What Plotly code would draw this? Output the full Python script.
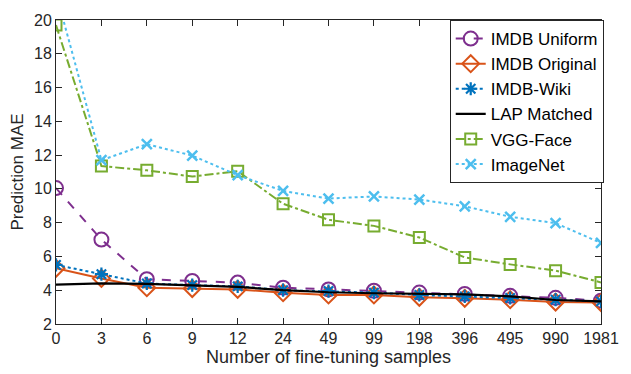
import plotly.graph_objects as go

x_labels = ["0", "3", "6", "9", "12", "24", "49", "99", "198", "396", "495", "990", "1981"]
x_pos = list(range(len(x_labels)))

imdb_uniform = [10.05, 7.0, 4.65, 4.55, 4.45, 4.15, 4.05, 3.97, 3.86, 3.78, 3.67, 3.55, 3.38]
imdb_original = [5.3, 4.7, 4.15, 4.1, 4.05, 3.85, 3.72, 3.72, 3.58, 3.52, 3.44, 3.3, 3.27]
imdb_wiki = [5.5, 4.95, 4.4, 4.3, 4.23, 4.0, 3.95, 3.86, 3.72, 3.63, 3.54, 3.44, 3.34]
lap_matched = [4.33, 4.4, 4.38, 4.29, 4.2, 4.0, 3.88, 3.82, 3.8, 3.76, 3.63, 3.42, 3.34]
vgg_face = [19.7, 11.35, 11.1, 10.73, 11.05, 9.12, 8.17, 7.81, 7.12, 5.94, 5.53, 5.16, 4.46]
imagenet = [21.6, 11.7, 12.65, 11.97, 10.81, 9.88, 9.43, 9.55, 9.37, 8.97, 8.35, 7.97, 6.8]

y_ticks = [2, 4, 6, 8, 10, 12, 14, 16, 18, 20]

series = [
    ("IMDB Uniform", imdb_uniform, "#7E2F8E", "dash", "circle-open", 14, 2),
    ("IMDB Original", imdb_original, "#D95319", "solid", "diamond-open", 13, 2),
    ("IMDB-Wiki", imdb_wiki, "#0072BD", "dot", "asterisk-open", 11, 2.2),
    ("LAP Matched", lap_matched, "#000000", "solid", None, 0, 0),
    ("VGG-Face", vgg_face, "#77AC30", "dashdot", "square-open", 11, 2),
    ("ImageNet", imagenet, "#4DBEEE", "dot", "x-thin-open", 10, 2.5),
]

fig = go.Figure()
for name, vals, color, dash, sym, size, mlw in series:
    if sym is None:
        fig.add_trace(go.Scatter(x=x_pos, y=vals, name=name, mode="lines",
                                 line=dict(color=color, width=2.2, dash=dash)))
    else:
        fig.add_trace(go.Scatter(x=x_pos, y=vals, name=name, mode="lines+markers",
                                 line=dict(color=color, width=2, dash=dash),
                                 marker=dict(symbol=sym, size=size, color=color,
                                             line=dict(color=color, width=mlw))))

axis_common = dict(showline=True, linecolor="#262626", linewidth=1, mirror="ticks",
                   ticks="inside", ticklen=6, tickcolor="#262626", showgrid=False,
                   zeroline=False, tickfont=dict(size=16, color="#262626"),
                   ticklabeloverflow="allow")

fig.update_layout(
    width=631, height=374,
    margin=dict(l=56, r=15, t=12.5, b=44.5),
    paper_bgcolor="white", plot_bgcolor="white",
    font=dict(family="Liberation Sans, Arial, sans-serif", color="#262626"),
    xaxis=dict(range=[0, 12], tickvals=x_pos, ticktext=x_labels,
               title=dict(text="Number of fine-tuning samples", font=dict(size=18), standoff=2),
               **axis_common),
    yaxis=dict(range=[2, 20], tickvals=y_ticks,
               title=dict(text="Prediction MAE", font=dict(size=17), standoff=6),
               **axis_common),
    legend=dict(x=1.005, y=1.0, xanchor="right", yanchor="top",
                bgcolor="white", bordercolor="#262626", borderwidth=1,
                font=dict(size=17, color="#000000"), itemwidth=30,
                tracegroupgap=0),
    showlegend=True,
)

fig.write_html("out.html")
